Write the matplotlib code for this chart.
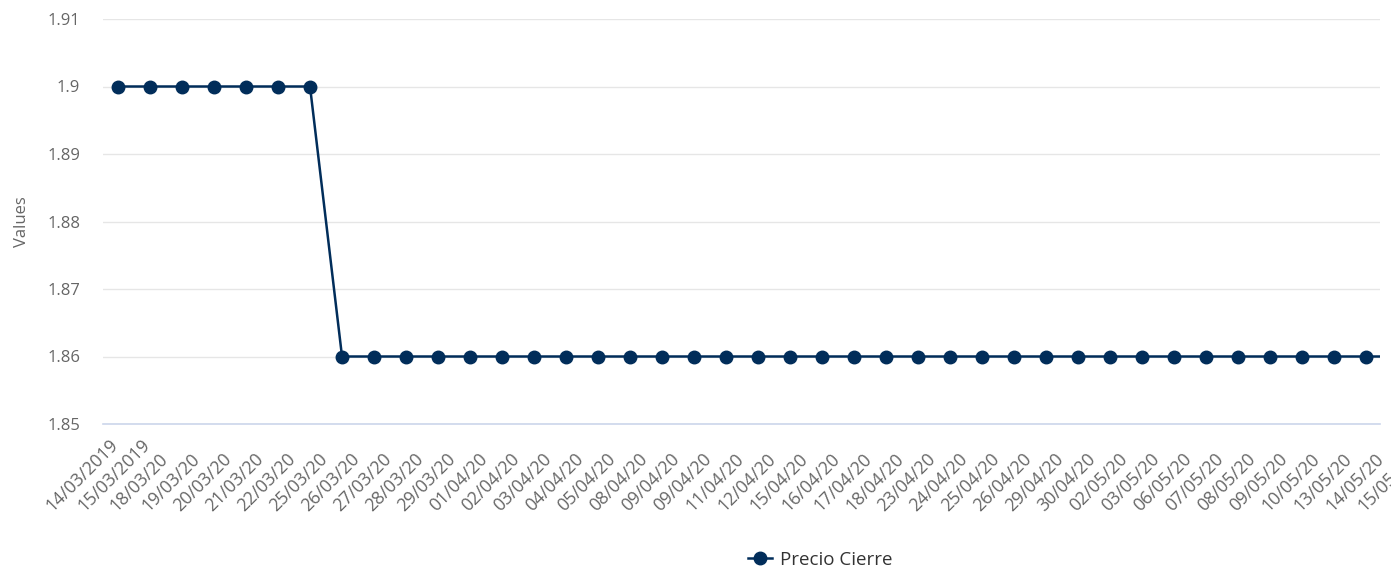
import numpy as np
import matplotlib.pyplot as plt
from matplotlib.transforms import blended_transform_factory, ScaledTranslation

plt.rcParams['font.family'] = ['Open Sans', 'DejaVu Sans']

dates = ['14/03/2019', '15/03/2019', '18/03/20', '19/03/20', '20/03/20', '21/03/20',
         '22/03/20', '25/03/20', '26/03/20', '27/03/20', '28/03/20', '29/03/20',
         '01/04/20', '02/04/20', '03/04/20', '04/04/20', '05/04/20', '08/04/20',
         '09/04/20', '09/04/20', '11/04/20', '12/04/20', '15/04/20', '16/04/20',
         '17/04/20', '18/04/20', '23/04/20', '24/04/20', '25/04/20', '26/04/20',
         '29/04/20', '30/04/20', '02/05/20', '03/05/20', '06/05/20', '07/05/20',
         '08/05/20', '09/05/20', '10/05/20', '13/05/20', '14/05/20', '15/05/20']
precio_cierre = [1.90, 1.90, 1.90, 1.90, 1.90, 1.90, 1.90,
                 1.86, 1.86, 1.86, 1.86, 1.86, 1.86, 1.86, 1.86, 1.86, 1.86,
                 1.86, 1.86, 1.86, 1.86, 1.86, 1.86, 1.86, 1.86, 1.86, 1.86,
                 1.86, 1.86, 1.86, 1.86, 1.86, 1.86, 1.86, 1.86, 1.86, 1.86,
                 1.86, 1.86, 1.86, 1.86, 1.86]
y_ticks = [1.85, 1.86, 1.87, 1.88, 1.89, 1.90, 1.91]
y_tick_labels = ['1.85', '1.86', '1.87', '1.88', '1.89', '1.9', '1.91']

W, H = 1391, 568
fig = plt.figure(figsize=(W / 100, H / 100), dpi=100)
ax = fig.add_axes([103 / W, 1 - 424 / H, (1380 - 103) / W, (424 - 19) / H])

x = np.arange(len(dates))
ax.plot(x, precio_cierre, color='#012d5a', lw=1.8, marker='o', ms=9,
        label='Precio Cierre', zorder=3)

ax.set_xlim(-0.47, 39.44)
ax.set_ylim(1.85, 1.91)
ax.set_yticks(y_ticks)
ax.set_yticklabels(y_tick_labels)
ax.tick_params(axis='y', length=0, pad=16.5, labelsize=12, labelcolor='#666666')
ax.set_xticks([])
ax.grid(axis='y', color='#e6e6e6', lw=1)
ax.set_axisbelow(True)
for side in ['top', 'right', 'left']:
    ax.spines[side].set_visible(False)
ax.spines['bottom'].set_color('#ccd6eb')
ax.spines['bottom'].set_linewidth(1.2)

# rotated category labels, anchored at their start like the original
trans = blended_transform_factory(ax.transData, ax.transAxes)
shift = ScaledTranslation(-66 / 100, -88 / 100, fig.dpi_scale_trans)
for i, d in enumerate(dates):
    ax.text(i, 0, d, transform=trans + shift, rotation=45, rotation_mode='anchor',
            ha='left', va='baseline', fontsize=12.8, color='#666666', clip_on=False)

ax.set_ylabel('Values', fontsize=12, color='#666666')
ax.yaxis.set_label_coords(-0.057, 0.5)

fig.legend(loc='center', bbox_to_anchor=(820 / W, 1 - 560 / H), frameon=False,
           fontsize=13.5, handlelength=1.3, handletextpad=0.4, labelcolor='#333333')

fig.savefig('out.png', dpi=100)
